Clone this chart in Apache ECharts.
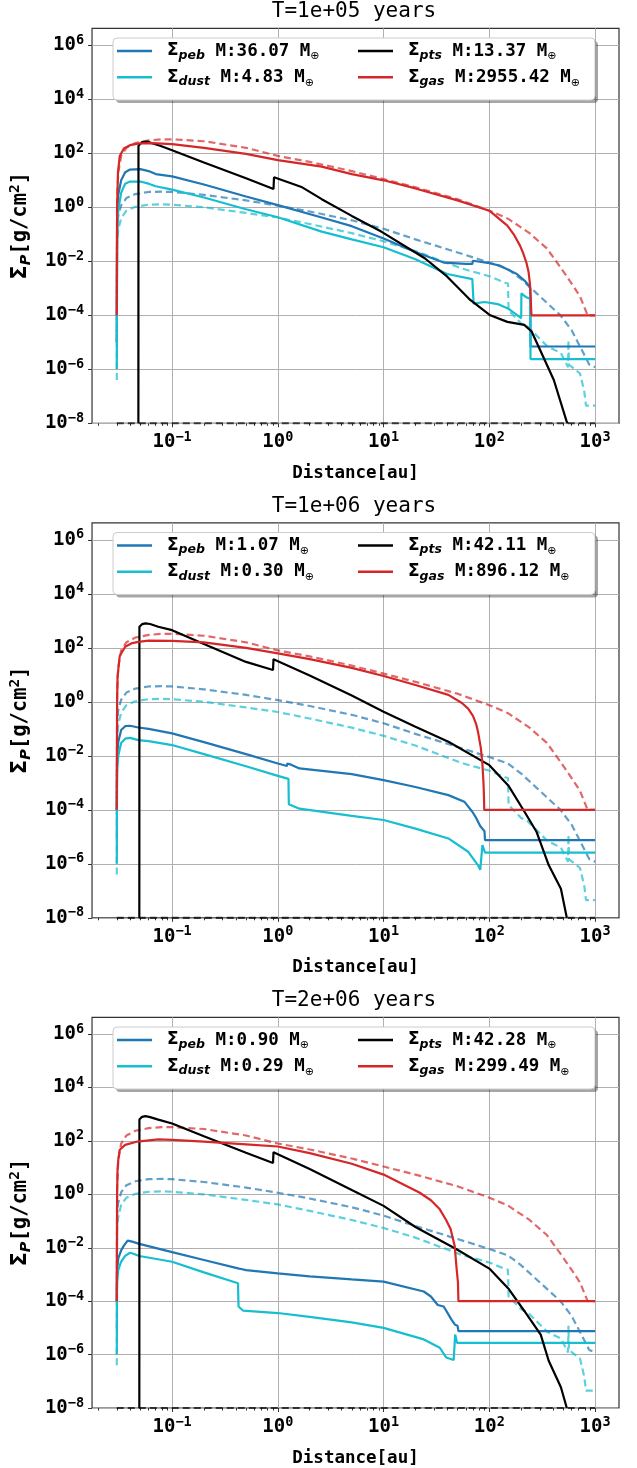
<!DOCTYPE html>
<html><head><meta charset="utf-8">
<script src="https://cdn.jsdelivr.net/npm/echarts@6/dist/echarts.min.js"></script>
<style>html,body{margin:0;padding:0;background:#fff}#c{width:637px;height:1468px}</style>
</head><body><div id="c"></div>
<script>
// ---------------- DATA ----------------
const titles = ['T=1e+05 years', 'T=1e+06 years', 'T=2e+06 years'];
const massPeb  = ['36.07', '1.07', '0.90'];
const massDust = ['4.83', '0.30', '0.29'];
const massPts  = ['13.37', '42.11', '42.28'];
const massGas  = ['2955.42', '896.12', '299.49'];

const xMajorTicks = [0.1, 1, 10, 100, 1000];
const xMinorTicks = [0.02,0.03,0.04,0.05,0.06,0.07,0.08,0.09,0.2,0.3,0.4,0.5,0.6,0.7,0.8,0.9,
  2,3,4,5,6,7,8,9,20,30,40,50,60,70,80,90,200,300,400,500,600,700,800,900];
const yMajorTicks = [1e-8, 1e-6, 1e-4, 1e-2, 1, 1e2, 1e4, 1e6];

// initial profiles (dashed, same in every panel)
const initGas = [[0.03,1e-4],[0.0302,2],[0.031,20],[0.033,80],[0.037,160],[0.045,240],[0.06,300],[0.08,330],[0.1,330],[0.2,280],[0.5,160],[1,80],[2,48],[5,22],[10,11],[20,5.5],[50,2],[100,0.75],[150,0.38],[240,0.11],[350,0.03],[470,0.006],[600,0.0015],[720,5e-4],[850,1e-4],[1000,1e-4]];
const initPeb = [[0.03,1e-5],[0.0302,0.2],[0.031,0.5],[0.033,1.2],[0.037,2.2],[0.045,3.1],[0.06,3.7],[0.08,3.8],[0.1,3.7],[0.2,2.9],[0.5,1.8],[1,1.15],[2,0.7],[5,0.33],[10,0.16],[20,0.065],[40,0.028],[100,0.009],[150,0.0052],[200,0.0022],[280,6.5e-4],[470,1e-4],[600,2.8e-5],[720,7e-6],[880,1.5e-6],[1000,1.2e-6]];
const initDust = [[0.03,4e-7],[0.0302,0.05],[0.031,0.15],[0.033,0.4],[0.037,0.75],[0.045,1.05],[0.06,1.25],[0.08,1.3],[0.1,1.25],[0.2,1.0],[0.5,0.62],[1,0.42],[2,0.24],[5,0.11],[10,0.055],[20,0.024],[54,0.0055],[100,0.0028],[141,0.0016],[150,0.0015],[152,1.5e-4],[200,5e-5],[230,3.8e-5],[355,7e-6],[475,4e-6],[555,1.2e-6],[560,1.2e-5],[566,1.5e-6],[720,7e-7],[790,1.5e-7],[820,4.5e-8],[1000,4.5e-8]];
const initPts = [[0.03,1e-8],[1000,1e-8]];

// T = 1e5 yr
const gas_1 = [[0.03,1e-4],[0.0302,1],[0.0308,20],[0.032,80],[0.035,150],[0.04,200],[0.05,235],[0.065,240],[0.1,220],[0.2,160],[0.5,95],[1,56],[2.6,32],[5,17],[10,10],[20,5],[50,1.8],[100,0.75],[148,0.21],[170,0.1],[195,0.038],[210,0.019],[224,0.009],[235,0.004],[242,0.0015],[246,5e-4],[249,1.5e-4],[250,1e-4],[1000,1e-4]];
const peb_1 = [[0.03,1e-5],[0.0302,0.5],[0.031,3],[0.033,10],[0.036,20],[0.04,25],[0.05,26],[0.06,22],[0.07,17],[0.1,14],[0.2,7],[0.5,2.5],[1,1.2],[2.6,0.42],[5,0.2],[10,0.07],[20,0.022],[37,0.009],[60,0.008],[69,0.008],[70,0.0105],[100,0.0085],[126,0.0069],[182,0.0034],[219,0.0018],[235,0.0013],[244,0.001],[245,7e-6],[1000,7e-6]];
const dust_1 = [[0.03,1e-6],[0.0302,0.1],[0.031,0.8],[0.033,3.5],[0.036,7.5],[0.04,9],[0.05,9],[0.06,7.5],[0.07,6],[0.1,4.5],[0.2,2.3],[0.5,0.85],[1,0.43],[2.6,0.126],[5,0.065],[10,0.033],[20,0.012],[40,0.0034],[69,0.0022],[71,2.7e-4],[90,3.1e-4],[120,2.6e-4],[150,1.8e-4],[200,7.8e-5],[201,6.5e-4],[219,4.9e-4],[244,4e-4],[245,2.4e-6],[1000,2.4e-6]];
const pts_1 = [[0.048,1e-8],[0.0481,190],[0.052,260],[0.058,270],[0.077,190],[0.1,130],[0.2,46],[0.5,12],[0.91,4.8],[0.92,13],[1.7,5.5],[2.6,2.0],[5,0.48],[9.5,0.126],[24.5,0.013],[40,0.0027],[66,3.7e-4],[102,1e-4],[148,5.7e-5],[214,4.4e-5],[251,2.5e-5],[302,5.2e-6],[407,4e-7],[537,1.2e-8],[550,1e-8]];

// T = 1e6 yr
const gas_2 = [[0.03,1e-4],[0.0302,1],[0.0305,8.5],[0.032,50],[0.036,110],[0.042,150],[0.048,166],[0.06,185],[0.1,182],[0.2,160],[0.5,100],[1,62],[2,38],[5,18],[10,9],[20,4.2],[41,1.8],[55,0.9],[63,0.56],[70,0.3],[75,0.15],[78,0.08],[83,0.02],[86,0.005],[88,0.001],[89,3e-4],[89.5,1e-4],[1000,1e-4]];
const peb_2 = [[0.03,1e-4],[0.0302,0.01],[0.031,0.033],[0.033,0.09],[0.036,0.125],[0.04,0.13],[0.048,0.112],[0.06,0.1],[0.1,0.068],[0.2,0.032],[0.5,0.0115],[1,0.0052],[1.22,0.0042],[1.23,0.0052],[1.35,0.0046],[1.6,0.0034],[5,0.0021],[10,0.00126],[20,7e-4],[41,3.5e-4],[58,2e-4],[69,8.5e-5],[75,5e-5],[82,2.5e-5],[86,2e-5],[90,1.6e-5],[91,7.5e-6],[1000,7.5e-6]];
const dust_2 = [[0.03,1e-6],[0.0302,0.003],[0.031,0.01],[0.033,0.03],[0.036,0.043],[0.04,0.046],[0.048,0.038],[0.06,0.035],[0.1,0.025],[0.2,0.0115],[0.5,0.0041],[1,0.0018],[1.26,0.0014],[1.27,1.6e-4],[1.6,1.1e-4],[5,6e-5],[10,4.2e-5],[20,2e-5],[41,8.7e-6],[63,2.8e-6],[78,9e-7],[82,6e-7],[85,6e-7],[86,4.9e-6],[89,5.5e-6],[91,2.6e-6],[1000,2.6e-6]];
const pts_2 = [[0.049,1e-8],[0.0491,600],[0.052,750],[0.056,800],[0.062,760],[0.074,600],[0.1,450],[0.2,138],[0.5,30],[0.9,15],[0.91,38],[2,9.5],[5,1.7],[10,0.43],[20,0.12],[41,0.033],[100,0.0045],[151,8e-4],[215,8.5e-5],[280,1.5e-5],[364,9e-7],[475,1.2e-7],[540,1e-8]];

// T = 2e6 yr
const gas_3 = [[0.03,1e-4],[0.0302,1],[0.0305,8.5],[0.031,20],[0.032,47],[0.036,71],[0.047,95],[0.074,115],[0.1,110],[0.2,95],[0.5,75],[1,62],[2,35],[5,14],[10,5.5],[22,1.15],[28,0.6],[34,0.275],[39,0.11],[43,0.05],[47,0.012],[49,0.0017],[50.5,5e-4],[51,1e-4],[1000,1e-4]];
const peb_3 = [[0.03,1e-4],[0.0302,0.0015],[0.031,0.004],[0.033,0.008],[0.035,0.012],[0.038,0.0185],[0.042,0.017],[0.049,0.014],[0.1,0.0069],[0.2,0.0035],[0.43,0.00166],[0.435,0.0019],[0.45,0.0016],[0.5,0.00145],[1,0.0011],[2,8.5e-4],[5,6.5e-4],[10,5.4e-4],[24,2.3e-4],[28,1.5e-4],[32.5,7.2e-5],[37,6.3e-5],[41,3.2e-5],[44,2e-5],[47.5,1.3e-5],[50,1.2e-5],[51,7.6e-6],[1000,7.6e-6]];
const dust_3 = [[0.03,1e-6],[0.0302,5e-4],[0.031,0.0015],[0.033,0.003],[0.036,0.005],[0.04,0.0065],[0.043,0.006],[0.049,0.0049],[0.1,0.003],[0.2,0.0012],[0.42,4.7e-4],[0.425,6.3e-5],[0.47,4.4e-5],[1,3.6e-5],[2,2.6e-5],[5,1.6e-5],[10,1e-5],[24,3.7e-6],[34,1.8e-6],[39,7.8e-7],[46,6.3e-7],[47.5,5.6e-6],[49,5.6e-6],[49.5,2.75e-6],[1000,2.75e-6]];
const pts_3 = [[0.049,1e-8],[0.0491,630],[0.052,800],[0.056,850],[0.062,780],[0.074,630],[0.1,450],[0.2,150],[0.5,36],[0.9,15],[0.91,38],[2,8.9],[5,1.45],[10,0.37],[20,0.06],[48.5,0.009],[100,0.00166],[151,3e-4],[215,4.2e-5],[306,5.6e-6],[364,5.9e-7],[475,6e-8],[540,1e-8]];

// ---------------- LAYOUT ----------------
const C = {peb:'#1f77b4', dust:'#17becf', pts:'#000000', gas:'#d62728'};
const MONO = 'DejaVu Sans Mono', SANS = 'DejaVu Sans';
const X_MIN = Math.pow(10, -1.757), X_MAX = Math.pow(10, 3.226);
const Y_MIN = 1e-8, Y_MAX = Math.pow(10, 6.63);
const GRID_LEFT = 89, GRID_W = 530, GRID_H = 395, PANEL_STEP = 494.5, GRID_TOP0 = 28.3;
const LW = 2.2;

const panels = [
  {peb: peb_1, dust: dust_1, pts: pts_1, gas: gas_1},
  {peb: peb_2, dust: dust_2, pts: pts_2, gas: gas_2},
  {peb: peb_3, dust: dust_3, pts: pts_3, gas: gas_3}
];
const inits = {peb: initPeb, dust: initDust, pts: initPts, gas: initGas};
const masses = {peb: massPeb, dust: massDust, pts: massPts, gas: massGas};

function supLabel(v) {
  const e = Math.round(Math.log10(v));
  return '{b|10}{s|' + (e < 0 ? '\u2212' + (-e) : e) + '}';
}
const tickRich = {
  b: {fontFamily: MONO, fontWeight: 'bold', fontSize: 19, lineHeight: 24, color: '#000'},
  s: {fontFamily: MONO, fontWeight: 'bold', fontSize: 13.5, lineHeight: 15, verticalAlign: 'top', color: '#000'}
};
const legendRich = {
  g: {fontFamily: SANS, fontWeight: 'bold', fontSize: 17, lineHeight: 22, padding: [0, 0, 0, 10], color: '#000'},
  s: {fontFamily: SANS, fontWeight: 'bold', fontStyle: 'italic', fontSize: 12.5, lineHeight: 13, verticalAlign: 'bottom', color: '#000'},
  t: {fontFamily: MONO, fontWeight: 'bold', fontSize: 17.5, lineHeight: 22, color: '#000'},
  o: {fontFamily: SANS, fontSize: 11, lineHeight: 12, verticalAlign: 'bottom', color: '#000'}
};

const option = {
  animation: false, backgroundColor: '#fff',
  title: [], grid: [], xAxis: [], yAxis: [], series: [], legend: [], graphic: []
};

panels.forEach((p, k) => {
  const top = GRID_TOP0 + PANEL_STEP * k;
  const off = PANEL_STEP * k;
  option.title.push({
    text: titles[k], left: GRID_LEFT + GRID_W / 2, top: top - 27, textAlign: 'center', padding: 0,
    textStyle: {fontFamily: MONO, fontSize: 21, fontWeight: 'normal', color: '#000'}
  });
  option.grid.push({left: GRID_LEFT, top: top, width: GRID_W, height: GRID_H,
    show: true, borderColor: '#333', borderWidth: 1.2, backgroundColor: '#fff'});
  option.xAxis.push({
    type: 'log', logBase: 10, gridIndex: k, min: X_MIN, max: X_MAX,
    name: 'Distance[au]', nameLocation: 'middle', nameGap: 41,
    nameTextStyle: {fontFamily: MONO, fontWeight: 'bold', fontSize: 17.5, color: '#000'},
    axisLine: {show: false},
    axisTick: {show: true, customValues: xMajorTicks, length: 4, lineStyle: {color: '#333', width: 1}},
    axisLabel: {show: true, customValues: xMajorTicks, margin: 7, formatter: supLabel, rich: tickRich},
    splitLine: {show: true, lineStyle: {color: '#b0b0b0', width: 1}},
    minorTick: {show: false}
  });
  option.xAxis.push({
    type: 'log', logBase: 10, gridIndex: k, min: X_MIN, max: X_MAX, position: 'bottom',
    axisLine: {show: false},
    axisTick: {show: true, customValues: xMinorTicks, length: 2.5, lineStyle: {color: '#333', width: 1}},
    axisLabel: {show: false}, splitLine: {show: false}
  });
  option.yAxis.push({
    type: 'log', logBase: 10, gridIndex: k, min: Y_MIN, max: Y_MAX,
    name: '{g|\u03A3}{p|P}{t|[g/cm}{q|2}{t|]}', nameLocation: 'middle', nameGap: 50, nameRotate: 90,
    nameTextStyle: {rich: {
      g: {fontFamily: SANS, fontWeight: 'bold', fontSize: 21, lineHeight: 26, color: '#000'},
      p: {fontFamily: SANS, fontWeight: 'bold', fontStyle: 'italic', fontSize: 14.5, lineHeight: 14, verticalAlign: 'bottom', color: '#000'},
      t: {fontFamily: MONO, fontWeight: 'bold', fontSize: 20.5, lineHeight: 26, color: '#000'},
      q: {fontFamily: MONO, fontWeight: 'bold', fontSize: 14.5, lineHeight: 14, verticalAlign: 'top', color: '#000'}
    }},
    axisLine: {show: false},
    axisTick: {show: true, customValues: yMajorTicks, length: 4, lineStyle: {color: '#333', width: 1}},
    axisLabel: {show: true, customValues: yMajorTicks, margin: 8, formatter: supLabel, rich: tickRich},
    splitLine: {show: true, lineStyle: {color: '#b0b0b0', width: 1}}
  });
  const xi = 2 * k;
  ['peb', 'dust', 'pts', 'gas'].forEach(key => {
    option.series.push({
      name: key + '_init_' + k, type: 'line', xAxisIndex: xi, yAxisIndex: k,
      data: inits[key], showSymbol: false, symbol: 'none', silent: true,
      lineStyle: {color: C[key], width: LW, type: [7, 4], opacity: 0.7}
    });
  });
  ['peb', 'dust', 'pts', 'gas'].forEach(key => {
    option.series.push({
      name: key + '_' + k, type: 'line', xAxisIndex: xi, yAxisIndex: k,
      data: p[key], showSymbol: false, symbol: 'none', silent: true,
      itemStyle: {color: C[key]},
      lineStyle: {color: C[key], width: LW}
    });
  });
  const lab = {};
  ['peb', 'dust', 'pts', 'gas'].forEach(key => {
    lab[key + '_' + k] = '{g|\u03A3}{s|' + key + '}{t| M:' + masses[key][k] + ' M}{o|\u2295}';
  });
  // legend frame (matplotlib style: shadow + rounded white box)
  option.graphic.push({
    type: 'rect', z: 3, silent: true,
    shape: {x: 116, y: 41 + off, width: 482, height: 62, r: 4},
    style: {fill: 'rgba(0,0,0,0.35)'}
  });
  option.graphic.push({
    type: 'rect', z: 3, silent: true,
    shape: {x: 113, y: 38 + off, width: 482, height: 62, r: 4},
    style: {fill: 'rgba(255,255,255,1)', stroke: '#cccccc', lineWidth: 1}
  });
  const legendCommon = {
    orient: 'vertical', top: 42 + off, padding: 0, itemGap: 6.3, itemWidth: 35, itemHeight: 2.5,
    icon: 'rect', selectedMode: false, z: 5,
    formatter: n => lab[n], textStyle: {rich: legendRich}
  };
  option.legend.push(Object.assign({}, legendCommon, {left: 117, data: ['peb_' + k, 'dust_' + k]}));
  option.legend.push(Object.assign({}, legendCommon, {left: 358, data: ['pts_' + k, 'gas_' + k]}));
});

const chart = echarts.init(document.getElementById('c'), null, {renderer: 'canvas'});
chart.setOption(option);
</script></body></html>
